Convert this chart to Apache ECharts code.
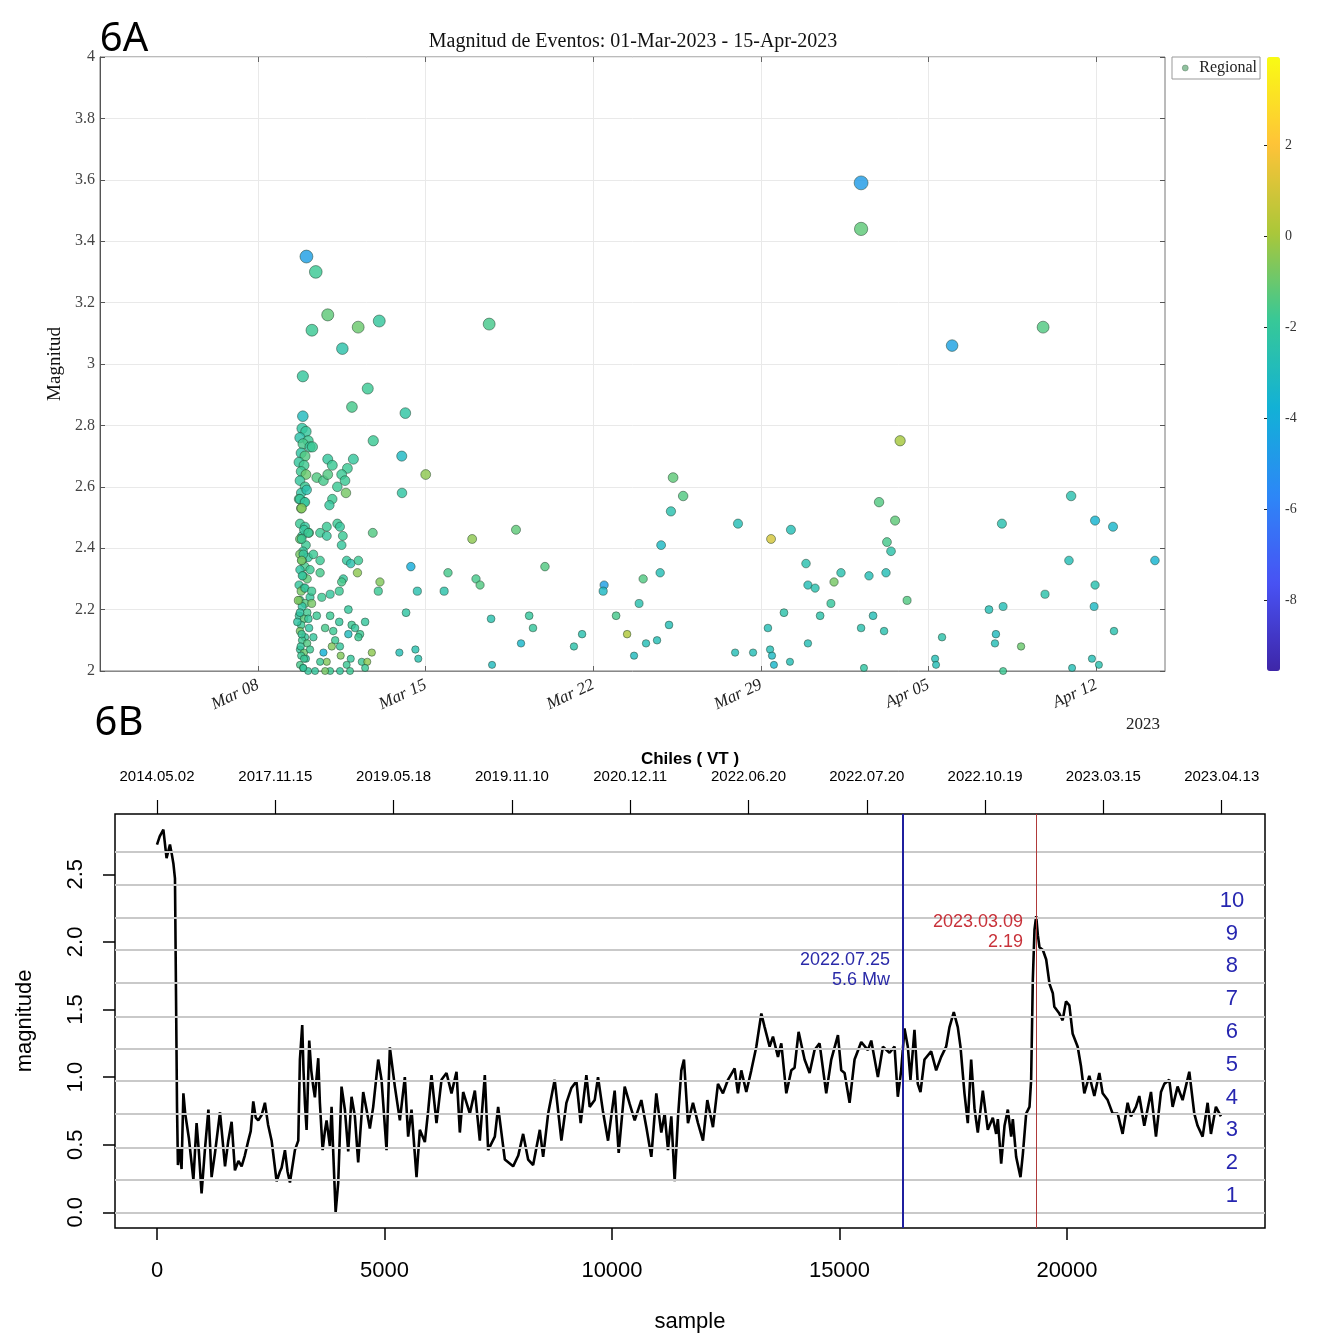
<!DOCTYPE html>
<html><head><meta charset="utf-8">
<script src="https://cdn.jsdelivr.net/npm/echarts@6/dist/echarts.min.js"></script>
<style>html,body{margin:0;padding:0;background:#fff}#c{width:1317px;height:1339px}</style>
</head><body><div id="c"></div>
<script>
// ---------------- 6A data : day of March (Apr n = 31+n), magnitude, colour value
const evDay = [
9.84,10.00,9.75,10.09,9.88,10.17,9.80,9.96,9.71,9.92,9.80,10.00,9.75,9.96,9.80,9.71,9.92,9.80,9.75,9.96,
10.13,9.84,9.75,10.00,9.88,9.75,10.09,9.84,9.96,9.75,9.88,10.05,9.71,9.92,9.80,10.17,9.75,9.96,9.84,10.05,
9.71,9.92,9.80,10.13,9.75,9.96,9.84,10.05,9.75,9.92,9.80,10.00,9.75,9.88,10.09,
10.02,10.41,10.91,10.25,12.18,13.06,11.52,9.87,12.58,11.92,14.15,9.87,12.81,10.27,10.91,11.98,11.10,14.00,15.00,11.73,
10.45,10.73,10.91,11.49,11.63,11.31,11.67,10.03,9.75,9.96,11.10,10.98,9.82,14.01,9.92,10.10,10.87,10.59,10.87,11.31,
11.42,11.54,12.79,9.82,11.49,9.89,10.31,10.59,9.82,11.70,11.87,12.19,12.15,14.38,10.17,10.59,9.85,11.56,11.49,13.09,
9.96,10.24,11.39,11.01,13.02,14.65,9.68,10.24,10.66,11.77,14.18,9.75,10.45,11.01,10.10,11.39,11.91,12.47,9.64,10.80,
11.14,12.05,12.26,11.77,9.82,10.31,11.22,12.19,9.78,11.42,11.08,10.17,10.73,13.90,14.57,12.75,11.45,11.87,14.69,9.92,
10.87,10.59,12.33,12.56,11.70,9.89,10.38,11.01,11.42,11.84,12.47,10.80,
17.65,36.98,33.18,33.18,40.78,34.81,16.94,18.77,19.98,17.10,17.27,15.93,15.77,17.73,19.32,19.48,18.98,17.77,22.45,22.41,
21.53,21.19,22.95,23.41,23.91,24.08,23.70,24.20,24.66,24.79,24.83,25.16,25.24,25.33,25.75,28.04,27.92,28.67,29.42,29.29,
29.38,29.46,29.54,29.96,30.21,30.25,30.88,30.96,30.96,31.26,31.47,31.92,32.05,32.34,33.18,33.30,33.51,33.68,33.93,34.14,
34.22,34.26,34.43,34.60,35.10,36.27,36.31,36.56,38.52,38.81,38.77,39.06,39.11,39.11,39.86,40.86,41.86,41.95,41.99,42.82,
42.95,42.95,42.91,43.11,43.70,43.74,45.45];
const evMag = [
2.79,2.78,2.76,2.75,2.74,2.73,2.71,2.70,2.68,2.67,2.65,2.64,2.62,2.60,2.58,2.56,2.55,2.53,2.48,2.47,
2.45,2.44,2.43,2.41,2.39,2.38,2.37,2.36,2.34,2.33,2.31,2.30,2.28,2.27,2.26,2.24,2.23,2.22,2.21,2.19,
2.18,2.17,2.15,2.14,2.13,2.11,2.10,2.09,2.07,2.06,2.05,2.04,2.02,2.01,2.00,
3.35,3.30,3.16,3.11,3.12,3.14,3.05,2.96,2.92,2.86,2.84,2.83,2.75,2.73,2.69,2.69,2.67,2.70,2.64,2.66,
2.63,2.62,2.64,2.64,2.62,2.60,2.58,2.59,2.56,2.55,2.56,2.54,2.53,2.58,2.46,2.45,2.47,2.45,2.44,2.48,
2.47,2.44,2.45,2.43,2.41,2.38,2.38,2.36,2.36,2.36,2.35,2.36,2.32,2.34,2.33,2.32,2.31,2.30,2.29,2.29,
2.27,2.26,2.26,2.25,2.26,2.26,2.23,2.22,2.24,2.20,2.19,2.19,2.18,2.18,2.17,2.16,2.15,2.16,2.16,2.14,
2.13,2.14,2.12,2.12,2.12,2.11,2.10,2.11,2.08,2.08,2.08,2.07,2.06,2.06,2.07,2.06,2.05,2.04,2.04,2.04,
2.03,2.03,2.03,2.03,2.02,2.01,2.00,2.00,2.00,2.00,2.01,2.00,
3.13,3.06,3.59,3.44,3.12,2.75,2.43,2.46,2.34,2.30,2.28,2.32,2.26,2.17,2.18,2.14,2.09,2.02,2.28,2.26,
2.12,2.08,2.18,2.12,2.22,2.30,2.05,2.09,2.10,2.32,2.41,2.15,2.52,2.63,2.57,2.48,2.06,2.06,2.43,2.14,
2.07,2.05,2.02,2.19,2.03,2.46,2.35,2.28,2.09,2.27,2.18,2.22,2.29,2.32,2.14,2.01,2.31,2.18,2.55,2.13,
2.32,2.42,2.39,2.49,2.23,2.04,2.02,2.11,2.20,2.12,2.09,2.48,2.21,2.00,2.08,2.25,2.36,2.57,2.01,2.04,
2.49,2.28,2.21,2.02,2.47,2.13,2.36];
const evColor = [
-2.2,-2.0,-2.4,-1.8,-1.6,-2.0,-2.2,-1.4,-2.0,-1.7,-1.8,-1.0,-2.0,-1.8,-2.2,-1.6,-2.0,-0.6,-1.8,-2.0,
-1.6,-2.2,-1.0,-1.8,-2.0,-0.8,-2.0,-1.8,-1.6,-2.2,-1.8,-1.2,-2.0,-1.8,-0.8,-2.0,-1.8,-1.4,-2.2,-1.7,
-2.0,-1.2,-1.8,-2.2,-0.8,-2.0,-1.8,-1.4,-2.0,-1.0,-1.8,-2.2,-1.6,-1.8,-2.0,
-4.6,-1.8,-1.2,-1.8,-1.0,-2.0,-2.4,-2.0,-1.8,-1.6,-2.2,-3.0,-1.8,-1.8,-2.0,-2.0,-1.8,-3.2,-0.4,-1.8,
-1.4,-1.6,-1.4,-1.8,-1.8,-1.8,-0.8,-2.5,-2.0,-2.0,-1.8,-2.0,-0.6,-2.2,-2.0,-1.8,-1.8,-1.8,-2.0,-1.8,
-2.0,-1.8,-1.4,-1.8,-2.0,-2.0,-1.8,-1.8,-0.7,-2.0,-2.5,-1.8,-0.4,-4.0,-1.8,-1.6,-2.0,-2.0,-1.6,-0.6,
-2.0,-1.8,-1.8,-2.0,-1.8,-2.6,-0.6,-0.8,-1.8,-2.0,-2.2,-2.2,-1.8,-1.8,-2.0,-2.0,-1.8,-2.0,-2.2,-1.6,
-1.8,-2.0,-1.8,-3.0,-2.0,-2.0,-1.8,-1.8,-2.0,-2.0,-0.6,-1.8,-3.8,-2.8,-2.6,-0.4,-0.6,-2.0,-2.6,-1.8,
-0.6,-1.8,-1.8,-0.4,-1.8,-2.0,-2.0,-1.8,-2.0,-1.8,-1.8,-0.8,
-1.6,-4.5,-4.8,-1.2,-1.4,0.0,-0.4,-1.2,-1.4,-1.6,-1.4,-1.6,-2.4,-2.6,-2.0,-2.0,-3.4,-3.0,-4.6,-3.2,
-2.6,-2.4,-1.6,0.2,-2.6,-1.4,-3.0,-2.8,-2.8,-2.8,-3.2,-2.8,-2.6,-1.2,-1.4,-2.8,-2.8,-2.8,1.0,-2.8,
-2.8,-3.2,-3.4,-2.4,-2.8,-2.8,-2.6,-2.8,-2.8,-2.6,-2.4,-2.0,-0.8,-2.6,-2.6,-2.2,-2.8,-2.8,-1.4,-2.6,
-2.8,-1.6,-2.4,-1.2,-1.4,-2.8,-2.8,-2.4,-2.8,-3.0,-2.8,-2.6,-2.8,-1.8,-1.0,-2.4,-2.8,-2.6,-2.8,-2.8,
-3.6,-2.6,-3.2,-2.6,-3.4,-2.6,-3.6];
const weekTicks = [8, 15, 22, 29, 36, 43];
const weekNames = ['Mar 08', 'Mar 15', 'Mar 22', 'Mar 29', 'Apr 05', 'Apr 12'];
const cbTicks = [-8, -6, -4, -2, 0, 2];

// ---------------- 6B data : sample index, magnitude
const sampleIdx = [
0,60,140,210,285,330,360,395,440,460,500,540,580,620,700,800,870,920,980,1050,
1130,1200,1275,1385,1495,1567,1640,1713,1790,1860,1930,2007,2060,2116,2170,2226,2300,2372,2440,2519,
2629,2700,2739,2812,2870,2922,3031,3105,3141,3192,3220,3251,3288,3346,3390,3434,3470,3544,3580,3640,
3690,3727,3800,3837,3874,3926,3983,4056,4129,4203,4276,4349,4422,4532,4605,4678,4752,4862,4935,5045,
5118,5228,5338,5447,5520,5594,5704,5777,5887,5960,6033,6143,6253,6363,6473,6583,6656,6729,6876,6986,
7095,7205,7278,7425,7498,7645,7827,7940,8047,8157,8267,8414,8487,8597,8741,8888,8998,9108,9218,9312,
9437,9510,9620,9693,9800,9913,10059,10147,10279,10390,10499,10645,10760,10865,10974,11084,11157,11231,11304,11377,
11450,11524,11582,11670,11780,11890,12000,12095,12219,12329,12439,12549,12695,12768,12842,12952,13062,13172,13282,13355,
13465,13538,13648,13721,13831,13941,14013,14101,14233,14343,14452,14562,14709,14819,14966,15039,15112,15222,15331,15478,
15624,15698,15844,15954,16100,16210,16282,16356,16429,16502,16560,16648,16721,16780,16868,17015,17125,17235,17344,17418,
17512,17600,17659,17747,17820,17894,17967,18040,18150,18260,18370,18444,18480,18554,18627,18700,18774,18810,18883,18978,
19030,19103,19176,19212,19249,19286,19323,19360,19396,19470,19543,19616,19689,19722,19832,19905,19978,20052,20125,20235,
20308,20381,20491,20601,20711,20784,20894,21004,21114,21223,21333,21406,21516,21589,21699,21846,21956,22066,22139,22249,
22322,22431,22541,22688,22798,22871,22981,23091,23164,23273,23383];
const sampleMag = [
2.72,2.78,2.83,2.62,2.72,2.64,2.58,2.47,0.78,0.35,0.48,0.32,0.88,0.73,0.55,0.24,0.66,0.45,0.14,0.45,
0.76,0.26,0.44,0.74,0.34,0.53,0.67,0.31,0.38,0.34,0.42,0.53,0.60,0.82,0.70,0.68,0.72,0.81,0.65,0.53,
0.23,0.30,0.33,0.46,0.30,0.22,0.46,0.53,1.13,1.385,1.05,0.81,0.61,1.27,1.05,0.93,0.85,1.14,0.81,0.46,
0.60,0.68,0.49,0.78,0.44,0.00,0.22,0.93,0.76,0.45,0.855,0.71,0.37,0.89,0.76,0.62,0.78,1.13,0.98,0.46,
1.22,0.93,0.68,1.00,0.56,0.76,0.26,0.61,0.52,0.75,1.015,0.66,0.98,1.03,0.88,1.04,0.59,0.89,0.73,0.90,
0.53,1.015,0.46,0.56,0.78,0.39,0.34,0.42,0.58,0.39,0.35,0.61,0.41,0.73,0.98,0.53,0.81,0.92,0.97,0.66,
1.015,0.78,0.83,1.00,0.75,0.53,0.90,0.44,0.93,0.80,0.68,0.83,0.62,0.41,0.88,0.59,0.73,0.46,0.71,0.23,
0.70,1.05,1.13,0.66,0.81,0.66,0.53,0.83,0.63,0.95,0.88,0.98,1.065,0.88,1.05,0.89,1.05,1.225,1.47,1.37,
1.225,1.30,1.15,1.25,0.88,1.05,1.07,1.335,1.13,1.03,1.20,1.25,0.88,1.13,1.31,1.05,1.03,0.81,1.13,1.26,
1.20,1.27,1.00,1.225,1.18,1.225,0.855,1.05,1.36,1.225,0.98,1.35,0.95,0.89,1.13,1.19,1.05,1.15,1.225,1.37,
1.48,1.37,1.225,0.88,0.66,1.13,0.77,0.59,0.90,0.61,0.70,0.58,0.69,0.36,0.64,0.76,0.56,0.69,0.41,0.26,
0.43,0.73,0.78,0.98,1.72,2.09,2.19,2.05,1.96,1.94,1.87,1.69,1.62,1.52,1.47,1.42,1.56,1.53,1.32,1.225,
1.08,0.88,1.01,0.86,1.03,0.88,0.83,0.73,0.73,0.58,0.81,0.71,0.78,0.86,0.64,0.89,0.56,0.89,0.95,0.98,
0.78,0.93,0.83,1.04,0.73,0.64,0.56,0.81,0.58,0.78,0.71];
const bottomTicks = [0, 5000, 10000, 15000, 20000];
const magTicks = [0, 0.5, 1.0, 1.5, 2.0, 2.5];
const topTicks = [0, 2600, 5200, 7800, 10400, 13000, 15600, 18200, 20800, 23400];
const topLabels = ['2014.05.02','2017.11.15','2019.05.18','2019.11.10','2020.12.11','2022.06.20','2022.07.20','2022.10.19','2023.03.15','2023.04.13'];
const binEdges = [0, 0.244, 0.485, 0.727, 0.971, 1.213, 1.454, 1.698, 1.94, 2.179, 2.42, 2.665];
const binNames = ['1','2','3','4','5','6','7','8','9','10'];
const eventSample = [16396, 19319];
const eventLabelMag = [1.79, 2.07];
const eventText = ['2022.07.25\n5.6 Mw', '2023.03.09\n2.19'];
const eventColor = ['#2a2aa8', '#c8323a'];

// ---------------- chart
const serif = '"Liberation Serif","DejaVu Serif",serif';
const sans = '"Liberation Sans",Arial,sans-serif';
const chart = echarts.init(document.getElementById('c'));
const parula = ['#3e26a8','#4852f4','#2d87f7','#12b1d6','#37c897','#abc739','#fec338','#f9fb14'];
const bandCenters = binNames.map((n, i) => (binEdges[i] + binEdges[i + 1]) / 2);

chart.setOption({
  animation: false,
  backgroundColor: '#fff',
  textStyle: { fontFamily: serif },
  graphic: [
    { type: 'text', style: { x: 124, y: 40, text: '6A', font: '40px "Noto Sans", sans-serif', fill: '#000', textAlign: 'center', textVerticalAlign: 'middle' } },
    { type: 'text', style: { x: 119, y: 724, text: '6B', font: '40px "Noto Sans", sans-serif', fill: '#000', textAlign: 'center', textVerticalAlign: 'middle' } },
    { type: 'text', style: { x: 633, y: 42, text: 'Magnitud de Eventos: 01-Mar-2023 - 15-Apr-2023', font: '20px ' + serif, fill: '#111', textAlign: 'center', textVerticalAlign: 'middle' } },
    { type: 'text', style: { x: 1160, y: 725, text: '2023', font: '17px ' + serif, fill: '#222', textAlign: 'right', textVerticalAlign: 'middle' } }
  ],
  legend: {
    data: [{ name: 'Regional', itemStyle: { color: '#78b48a', borderColor: '#4a6a50', borderWidth: 0.5 } }],
    left: 1172, top: 57, orient: 'vertical',
    borderColor: '#999', borderWidth: 1, borderRadius: 0,
    padding: [3, 3, 3, 10], itemWidth: 6, itemHeight: 6, icon: 'circle',
    textStyle: { fontFamily: serif, fontSize: 16, color: '#222', padding: [0, 0, 0, 6] },
    selectedMode: false
  },
  visualMap: {
    type: 'continuous', min: -9.56, max: 3.93, dimension: 2, seriesIndex: 0,
    inRange: { color: parula }, calculable: false, hoverLink: false,
    left: 1267, top: 57, itemWidth: 13, itemHeight: 614, padding: 0, text: null,
    orient: 'vertical'
  },
  grid: [
    { left: 100, top: 57, width: 1065, height: 614, show: true, borderColor: '#777', borderWidth: 1 },
    { left: 115, top: 814, width: 1150, height: 414, show: true, borderColor: '#000', borderWidth: 1.5 },
    { left: 1267, top: 57, width: 13, height: 614, show: false }
  ],
  xAxis: [
    { gridIndex: 0, type: 'value', min: 1.4, max: 45.87,
      axisLine: { show: true, onZero: false, lineStyle: { color: '#888' } },
      axisTick: { show: true, inside: true, length: 5, customValues: weekTicks, lineStyle: { color: '#666' } },
      axisLabel: { customValues: weekTicks, rotate: 25, margin: 13, fontFamily: serif, fontStyle: 'italic', fontSize: 17, color: '#222',
        formatter: v => weekNames[weekTicks.indexOf(Math.round(v))] },
      splitLine: { show: true, lineStyle: { color: '#e9e9e9', width: 1 } } },
    { gridIndex: 1, type: 'value', min: -923, max: 24352, position: 'bottom',
      axisLine: { show: false, onZero: false },
      axisTick: { show: true, length: 12, customValues: bottomTicks, lineStyle: { color: '#000', width: 1.5 } },
      axisLabel: { customValues: bottomTicks, fontFamily: sans, fontSize: 22, color: '#000', margin: 32,
        formatter: v => String(Math.round(v)) },
      splitLine: { show: false },
      name: 'sample', nameLocation: 'middle', nameGap: 83, nameTextStyle: { fontFamily: sans, fontSize: 22, color: '#000' } },
    { gridIndex: 1, type: 'value', min: -923, max: 24352, position: 'top',
      axisLine: { show: false, onZero: false },
      axisTick: { show: true, length: 14, customValues: topTicks, lineStyle: { color: '#000', width: 1.2 } },
      axisLabel: { customValues: topTicks, fontFamily: sans, fontSize: 15, color: '#000', margin: 30,
        formatter: v => topLabels[topTicks.indexOf(Math.round(v))] },
      splitLine: { show: false },
      name: 'Chiles ( VT )', nameLocation: 'middle', nameGap: 46,
      nameTextStyle: { fontFamily: sans, fontSize: 17, fontWeight: 'bold', color: '#000' } },
    { gridIndex: 2, type: 'value', min: 0, max: 1, show: false },
    { gridIndex: 0, type: 'value', min: 1.4, max: 45.87, position: 'top',
      axisLine: { show: false, onZero: false },
      axisTick: { show: true, inside: true, length: 5, customValues: weekTicks, lineStyle: { color: '#666' } },
      axisLabel: { show: false }, splitLine: { show: false } }
  ],
  yAxis: [
    { gridIndex: 0, type: 'value', min: 2, max: 4, interval: 0.2,
      axisLine: { show: true, onZero: false, lineStyle: { color: '#555' } },
      axisTick: { show: true, inside: true, length: 5, lineStyle: { color: '#555' } },
      axisLabel: { fontFamily: serif, fontSize: 16, color: '#444', margin: 5 },
      splitLine: { show: true, lineStyle: { color: '#e9e9e9', width: 1 } },
      name: 'Magnitud', nameLocation: 'middle', nameGap: 28, nameRotate: 90,
      nameTextStyle: { fontFamily: serif, fontSize: 19, color: '#111' } },
    { gridIndex: 1, type: 'value', min: -0.116, max: 2.946,
      axisLine: { show: false, onZero: false },
      axisTick: { show: true, length: 12, customValues: magTicks, lineStyle: { color: '#000', width: 1.5 } },
      axisLabel: { customValues: magTicks, rotate: 90, fontFamily: sans, fontSize: 22, color: '#000', margin: 28,
        formatter: v => v.toFixed(1) },
      splitLine: { show: false },
      name: 'magnitude', nameLocation: 'middle', nameGap: 79, nameRotate: 90,
      nameTextStyle: { fontFamily: sans, fontSize: 22, color: '#000' } },
    { gridIndex: 2, type: 'value', min: -9.56, max: 3.93, position: 'right',
      axisLine: { show: false },
      axisTick: { show: true, inside: true, length: 3, customValues: cbTicks, lineStyle: { color: '#222' } },
      axisLabel: { customValues: cbTicks, fontFamily: serif, fontSize: 14, color: '#333', margin: 5 },
      splitLine: { show: false } },
    { gridIndex: 0, type: 'value', min: 2, max: 4, interval: 0.2, position: 'right',
      axisLine: { show: false, onZero: false },
      axisTick: { show: true, inside: true, length: 5, lineStyle: { color: '#555' } },
      axisLabel: { show: false }, splitLine: { show: false } }
  ],
  series: [
    { name: 'Regional', type: 'scatter', xAxisIndex: 0, yAxisIndex: 0, z: 5,
      data: evDay.map((d, i) => [d, evMag[i], evColor[i]]),
      symbolSize: v => 4.3 * v[1] - 1.5,
      itemStyle: { opacity: 0.82, borderColor: 'rgba(30,60,40,0.75)', borderWidth: 0.8 } },
    { name: 'bands', type: 'scatter', xAxisIndex: 1, yAxisIndex: 1, z: 2, silent: true,
      data: bandCenters.map(c => [23626, c]), symbolSize: 0,
      itemStyle: { color: '#2626b0', opacity: 1 },
      label: { show: true, position: 'inside', formatter: p => binNames[p.dataIndex], fontFamily: sans, fontSize: 22,
        color: '#2626b0', opacity: 1, textBorderWidth: 0, textBorderColor: 'transparent' },
      markLine: { silent: true, symbol: ['none', 'none'], label: { show: false },
        lineStyle: { color: '#c9c9c9', width: 2, type: 'solid' },
        data: binEdges.map(v => ({ yAxis: v })) } },
    { name: 'magnitude', type: 'line', xAxisIndex: 1, yAxisIndex: 1, z: 4, silent: true,
      data: sampleIdx.map((s, i) => [s, sampleMag[i]]), showSymbol: false, symbol: 'none',
      lineStyle: { color: '#000', width: 2.6 } },
    { name: 'events', type: 'scatter', xAxisIndex: 1, yAxisIndex: 1, z: 6, silent: true,
      data: eventSample.map((s, i) => ({ value: [s, eventLabelMag[i]],
        itemStyle: { color: eventColor[i], opacity: 1 },
        label: { color: eventColor[i] } })),
      symbolSize: 0,
      itemStyle: { opacity: 1 },
      label: { show: true, position: 'left', distance: 13, lineHeight: 20, fontFamily: sans, fontSize: 18, opacity: 1,
        textBorderWidth: 0, formatter: p => eventText[p.dataIndex] },
      markLine: { silent: true, symbol: ['none', 'none'], label: { show: false },
        data: [
          { xAxis: eventSample[0], lineStyle: { color: '#1f1f9e', width: 2, type: 'solid' } },
          { xAxis: eventSample[1], lineStyle: { color: '#b03a3a', width: 1, type: 'solid' } }
        ] } }
  ]
});
</script></body></html>
